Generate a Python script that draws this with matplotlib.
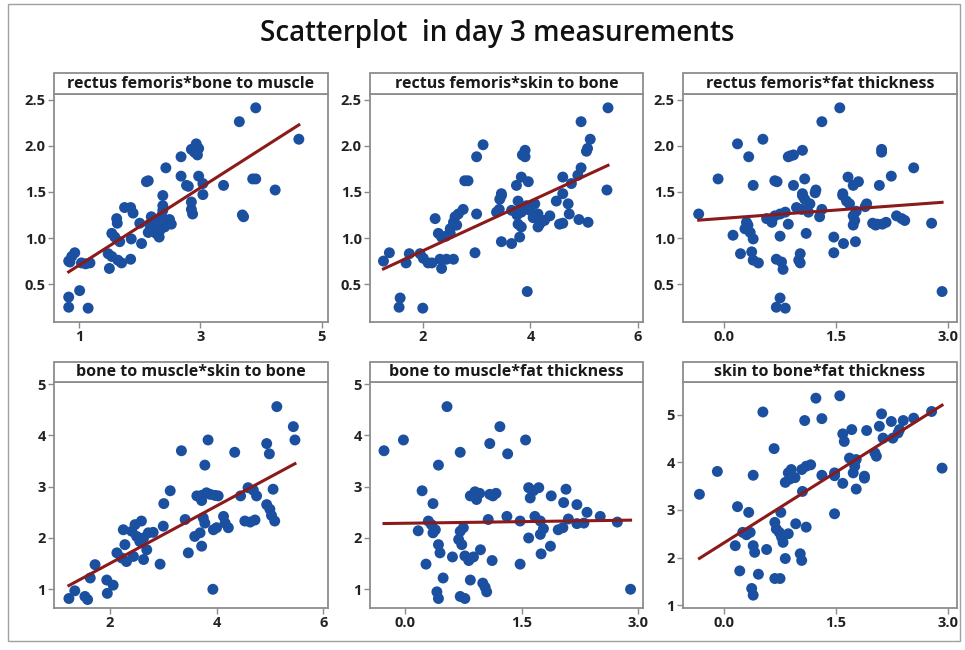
import numpy as np
import matplotlib
matplotlib.use("Agg")
import matplotlib.pyplot as plt
from matplotlib.patches import Rectangle

# day 3 measurements, one (x, y) pair list per panel
rf_bm_x = [3.91, 3.64, 4.62, 2.93, 2.97, 2.85, 2.95, 2.90, 2.68, 2.43, 2.68, 2.97, 2.14, 2.11,
           2.77, 2.80, 3.04, 3.38, 3.86, 3.91, 4.23, 2.38, 3.04, 2.38, 2.85, 2.85, 2.87, 3.69,
           3.71, 1.75, 1.85, 1.89, 1.62, 1.63, 2.00, 2.19, 2.27, 2.36, 2.44, 2.49, 2.41, 2.33,
           2.22, 2.14, 2.27, 2.32, 2.38, 2.52, 2.16, 1.54, 1.59, 1.67, 1.86, 2.03, 1.48, 1.54,
           1.64, 1.70, 1.85, 1.50, 0.93, 0.88, 0.83, 0.85, 1.04, 1.18, 1.11, 0.83, 0.83, 1.01,
           1.15]
rf_bm_y = [2.41, 2.26, 2.07, 2.02, 1.97, 1.96, 1.90, 1.93, 1.88, 1.76, 1.67, 1.67, 1.62, 1.61,
           1.57, 1.56, 1.59, 1.57, 1.64, 1.64, 1.52, 1.46, 1.47, 1.35, 1.39, 1.31, 1.26, 1.25,
           1.23, 1.33, 1.33, 1.27, 1.21, 1.16, 1.16, 1.23, 1.17, 1.24, 1.19, 1.20, 1.12, 1.08,
           1.12, 1.06, 1.05, 1.01, 1.30, 1.15, 1.15, 1.05, 1.01, 0.96, 0.99, 0.94, 0.83, 0.80,
           0.76, 0.73, 0.77, 0.67, 0.84, 0.80, 0.75, 0.74, 0.73, 0.73, 0.72, 0.36, 0.25, 0.43,
           0.24]

rf_sb_x = [5.44, 4.94, 5.11, 5.04, 5.06, 3.12, 3.00, 3.90, 3.85, 3.90, 3.83, 3.96, 3.74, 2.78,
           2.84, 3.46, 4.60, 4.94, 4.88, 4.76, 5.42, 4.60, 3.46, 3.43, 3.77, 3.93, 4.08, 4.48,
           4.70, 3.42, 3.37, 3.65, 3.75, 3.83, 3.99, 4.14, 4.05, 4.36, 4.26, 4.17, 4.14, 4.54,
           4.60, 4.72, 4.90, 5.07, 3.77, 3.83, 3.80, 3.46, 3.65, 3.94, 3.00, 2.97, 2.23, 2.75,
           2.66, 2.60, 2.57, 2.63, 2.51, 2.29, 2.35, 2.43, 2.51, 2.32, 2.44, 2.57, 2.35, 1.95,
           2.01, 2.10, 2.17, 1.75, 1.69, 1.27, 1.38, 1.58, 1.56, 2.00]
rf_sb_y = [2.41, 2.26, 2.07, 1.94, 1.97, 2.01, 1.88, 1.95, 1.90, 1.88, 1.66, 1.61, 1.57, 1.62,
           1.62, 1.48, 1.66, 1.76, 1.68, 1.59, 1.52, 1.48, 1.46, 1.42, 1.40, 1.35, 1.37, 1.40,
           1.37, 1.31, 1.28, 1.30, 1.25, 1.28, 1.30, 1.26, 1.22, 1.24, 1.19, 1.15, 1.12, 1.15,
           1.16, 1.26, 1.20, 1.17, 1.15, 1.12, 1.01, 0.96, 0.94, 0.42, 1.26, 0.84, 1.21, 1.31,
           1.26, 1.23, 1.17, 1.14, 1.10, 1.05, 1.01, 1.02, 1.05, 0.77, 0.77, 0.77, 0.67, 0.83,
           0.78, 0.73, 0.73, 0.83, 0.73, 0.75, 0.84, 0.35, 0.25, 0.24]

rf_ft_x = [1.55, 1.31, 0.52, 0.18, 0.33, 0.86, 0.93, 0.89, 1.05, 2.11, 2.11, -0.08, 0.39, 0.68,
           0.71, 0.93, 1.08, 1.23, 1.05, 1.66, 1.73, 1.80, 2.08, 2.24, 2.54, 1.59, 1.05, 1.08,
           1.22, 1.59, 1.64, 1.68, 1.15, 0.97, 1.04, 1.13, 1.31, 1.28, 1.91, 1.89, 1.73, 1.75,
           1.73, 1.77, 1.99, 2.05, 2.12, 2.17, 2.03, 2.31, 2.38, 2.42, 2.78, -0.34, 0.12, 0.30,
           0.32, 0.28, 0.35, 0.39, 0.57, 0.64, 0.68, 0.75, 0.82, 0.86, 0.75, 1.10, 0.22, 0.37,
           0.39, 0.46, 0.70, 0.77, 0.79, 1.02, 1.00, 1.02, 1.47, 1.60, 1.76, 1.47, 0.75, 0.70,
           0.82, 2.92]
rf_ft_y = [2.41, 2.26, 2.07, 2.02, 1.88, 1.88, 1.90, 1.89, 1.95, 1.96, 1.93, 1.64, 1.57, 1.62,
           1.61, 1.57, 1.64, 1.52, 1.48, 1.66, 1.57, 1.61, 1.57, 1.67, 1.76, 1.48, 1.46, 1.42,
           1.49, 1.46, 1.40, 1.37, 1.37, 1.33, 1.31, 1.28, 1.31, 1.23, 1.37, 1.34, 1.24, 1.19,
           1.14, 1.29, 1.16, 1.15, 1.15, 1.17, 1.14, 1.24, 1.21, 1.19, 1.16, 1.26, 1.03, 1.17,
           1.14, 1.10, 1.06, 0.99, 1.21, 1.17, 1.24, 1.26, 1.28, 1.15, 1.02, 1.05, 0.83, 0.85,
           0.76, 0.73, 0.77, 0.74, 0.66, 0.83, 0.76, 0.73, 1.01, 0.94, 0.96, 0.84, 0.35, 0.25,
           0.24, 0.42]

bm_sb_x = [5.13, 5.44, 5.47, 3.34, 3.84, 3.78, 4.34, 4.94, 4.99, 3.13, 3.01, 3.63, 3.72, 3.81,
           3.88, 3.97, 4.03, 3.72, 4.59, 4.69, 4.75, 4.45, 5.06, 4.94, 5.00, 5.03, 5.09, 4.53,
           4.63, 4.72, 4.13, 4.22, 4.16, 3.94, 4.00, 3.75, 3.78, 3.59, 3.69, 3.72, 3.47, 3.41,
           3.93, 3.00, 2.94, 2.81, 2.59, 2.47, 2.41, 2.50, 2.56, 2.69, 2.63, 2.25, 2.28, 2.13,
           2.22, 2.31, 2.44, 1.72, 1.63, 1.94, 2.06, 1.95, 1.34, 1.23, 1.53, 1.58, 2.72, 2.63]
bm_sb_y = [4.56, 4.17, 3.91, 3.70, 3.91, 3.42, 3.67, 3.84, 3.64, 2.92, 2.67, 2.82, 2.83, 2.88,
           2.85, 2.83, 2.82, 2.73, 2.98, 2.93, 2.82, 2.82, 2.95, 2.65, 2.56, 2.44, 2.33, 2.33,
           2.31, 2.35, 2.42, 2.20, 2.29, 2.16, 2.20, 2.39, 2.29, 2.03, 2.10, 1.84, 1.71, 2.36,
           1.00, 2.23, 1.49, 2.11, 2.33, 2.26, 2.13, 2.03, 1.93, 1.77, 1.58, 2.16, 1.87, 1.71,
           1.61, 1.54, 1.64, 1.48, 1.22, 1.18, 1.08, 0.92, 0.97, 0.82, 0.86, 0.80, 2.10, 2.00]

bm_ft_x = [0.54, 1.22, 1.55, -0.02, -0.27, 1.09, 0.71, 1.32, 0.43, 0.22, 0.36, 0.84, 0.90, 0.96,
           0.92, 1.09, 1.13, 1.17, 1.59, 1.65, 1.72, 1.61, 1.88, 2.07, 2.04, 2.21, 2.34, 2.51,
           2.73, 2.10, 2.21, 2.30, 1.97, 2.03, 1.87, 1.75, 1.59, 1.48, 1.48, 1.67, 1.74, 1.78,
           1.74, 1.31, 1.07, 1.12, 1.00, 1.03, 1.05, 0.84, 0.71, 0.77, 0.41, 0.43, 0.49, 0.27,
           0.17, 0.30, 0.34, 0.39, 0.36, 0.43, 0.45, 0.61, 0.71, 0.75, 0.69, 0.73, 0.77, 0.82,
           0.88, 0.97, 2.90]
bm_ft_y = [4.56, 4.17, 3.91, 3.91, 3.70, 3.84, 3.67, 3.64, 3.42, 2.92, 2.67, 2.82, 2.90, 2.87,
           2.75, 2.85, 2.82, 2.87, 2.98, 2.92, 2.98, 2.78, 2.82, 2.95, 2.69, 2.65, 2.50, 2.42,
           2.31, 2.37, 2.28, 2.29, 2.16, 2.20, 1.84, 1.69, 2.00, 1.49, 2.33, 2.42, 2.33, 2.18,
           2.07, 2.42, 2.36, 1.56, 1.12, 1.04, 0.95, 1.18, 0.86, 0.82, 0.95, 0.82, 1.22, 1.49,
           2.14, 2.33, 2.26, 2.16, 2.10, 1.87, 1.71, 1.63, 2.13, 2.20, 1.97, 1.87, 1.65, 1.56,
           1.63, 1.77, 1.00]

sb_ft_x = [1.23, 1.55, 0.52, 1.08, 1.31, 2.11, 2.24, 2.40, 2.54, 2.78, 2.08, 1.91, 1.59, 1.71,
           1.61, 2.13, 2.26, 2.33, 2.35, 0.67, 2.02, 2.04, 1.68, 1.77, -0.09, 0.39, 2.92, 1.10,
           1.16, 1.04, 0.90, 0.86, 1.75, 1.73, 1.88, 1.31, 1.48, -0.33, 0.18, 0.33, 0.25, 0.30,
           0.35, 0.15, 0.39, 0.41, 0.57, 0.21, 0.46, 0.37, 0.39, 0.68, 0.75, 0.68, 0.70, 0.74,
           0.79, 0.77, 0.76, 0.86, 0.82, 0.96, 1.10, 1.02, 1.04, 1.48, 1.05, 0.82, 0.88, 0.95,
           1.59, 1.77, 1.88, 1.48]
sb_ft_y = [5.35, 5.40, 5.06, 4.88, 4.92, 5.02, 4.86, 4.88, 4.93, 5.07, 4.76, 4.67, 4.60, 4.69,
           4.44, 4.51, 4.51, 4.62, 4.69, 4.29, 4.20, 4.13, 4.09, 4.06, 3.81, 3.73, 3.88, 3.92,
           3.95, 3.85, 3.85, 3.78, 3.92, 3.78, 3.71, 3.73, 3.78, 3.33, 3.07, 2.95, 2.53, 2.48,
           2.53, 2.25, 2.25, 2.11, 2.17, 1.72, 1.65, 1.35, 1.21, 1.56, 1.56, 2.74, 2.60, 2.53,
           2.32, 2.43, 2.95, 2.50, 1.98, 2.71, 2.64, 2.08, 1.94, 2.92, 3.39, 3.58, 3.65, 3.68,
           3.56, 3.44, 3.67, 3.72]

titles = ["rectus femoris*bone to muscle", "rectus femoris*skin to bone",
          "rectus femoris*fat thickness", "bone to muscle*skin to bone",
          "bone to muscle*fat thickness", "skin to bone*fat thickness"]

W, H = 965, 650
DOT = "#1b4f9f"
FIT = "#8b1a1a"
EDGE = "#8c8c8c"

fig = plt.figure(figsize=(W / 100, H / 100), dpi=100)
fig.patch.set_facecolor("white")
fig.add_artist(Rectangle((8 / W, 1 - 641 / H), 952 / W, 637 / H, transform=fig.transFigure,
                         fill=False, edgecolor="#a0a0a0", lw=1.0))
fig.text(497 / W, 1 - 33 / H, "Scatterplot  in day 3 measurements", ha="center", va="center",
         fontsize=20, family="Open Sans", fontweight="semibold", color="#111111")

cols = [(54, 328), (370, 643), (683, 957)]
rows = [(73, 94, 322), (362, 382, 608)]

panels = [
    (rf_bm_x, rf_bm_y, (0.588, 5.10), (0.09, 2.56), [1, 3, 5], ["1", "3", "5"],
     [0.5, 1.0, 1.5, 2.0, 2.5], ["0.5", "1.0", "1.5", "2.0", "2.5"]),
    (rf_sb_x, rf_sb_y, (1.02, 6.09), (0.09, 2.56), [2, 4, 6], ["2", "4", "6"],
     [0.5, 1.0, 1.5, 2.0, 2.5], ["0.5", "1.0", "1.5", "2.0", "2.5"]),
    (rf_ft_x, rf_ft_y, (-0.55, 3.12), (0.09, 2.56), [0, 1.5, 3], ["0.0", "1.5", "3.0"],
     [0.5, 1.0, 1.5, 2.0, 2.5], ["0.5", "1.0", "1.5", "2.0", "2.5"]),
    (bm_sb_x, bm_sb_y, (0.95, 6.09), (0.635, 5.04), [2, 4, 6], ["2", "4", "6"],
     [1, 2, 3, 4, 5], ["1", "2", "3", "4", "5"]),
    (bm_ft_x, bm_ft_y, (-0.45, 3.06), (0.635, 5.04), [0, 1.5, 3], ["0.0", "1.5", "3.0"],
     [1, 2, 3, 4, 5], ["1", "2", "3", "4", "5"]),
    (sb_ft_x, sb_ft_y, (-0.55, 3.12), (0.94, 5.69), [0, 1.5, 3], ["0.0", "1.5", "3.0"],
     [1, 2, 3, 4, 5], ["1", "2", "3", "4", "5"]),
]

for i, (x, y, xl, yl, xt, xtl, yt, ytl) in enumerate(panels):
    l, r = cols[i % 3]
    ht, hb, b = rows[i // 3]
    ax = fig.add_axes([l / W, 1 - b / H, (r - l) / W, (b - hb) / H])
    x = np.array(x)
    y = np.array(y)
    ax.scatter(x, y, s=62, color=DOT, edgecolors="none", zorder=3)
    k, c = np.polyfit(x, y, 1)
    xs = np.array([x.min(), x.max()])
    ax.plot(xs, k * xs + c, color=FIT, lw=2.2, zorder=4)
    ax.set_xlim(*xl)
    ax.set_ylim(*yl)
    ax.set_xticks(xt, xtl)
    ax.set_yticks(yt, ytl)
    for s in ax.spines.values():
        s.set_color(EDGE)
        s.set_linewidth(1.3)
    ax.tick_params(length=4, width=1.0, color=EDGE, pad=2, labelsize=10.5, labelcolor="#222222")
    for lab in ax.get_xticklabels() + ax.get_yticklabels():
        lab.set_family("Open Sans")
        lab.set_fontweight("bold")

    # title strip above each panel
    fig.add_artist(Rectangle((l / W, 1 - hb / H), (r - l) / W, (hb - ht) / H,
                             transform=fig.transFigure, facecolor="white",
                             edgecolor=EDGE, lw=1.3))
    fig.text((l + r) / 2 / W, 1 - (ht + hb) / 2 / H, titles[i], ha="center", va="center",
             fontsize=11.5, family="Open Sans", fontweight="bold", color="#1a1a1a")

fig.savefig("out.png", dpi=100)
